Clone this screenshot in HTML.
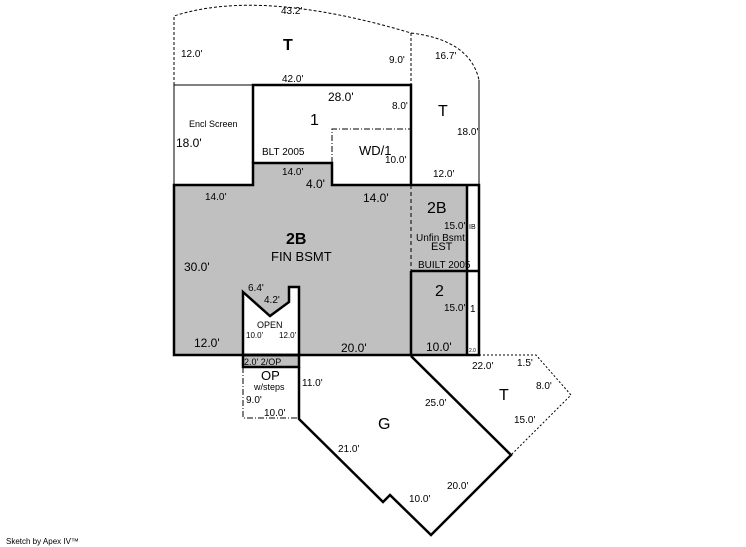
<!DOCTYPE html>
<html><head><meta charset="utf-8"><style>
html,body{margin:0;padding:0;background:#fff;}
svg{display:block;}
text{font-family:"Liberation Sans",Arial,sans-serif;fill:#000;}
</style></head><body>
<svg width="746" height="547" viewBox="0 0 746 547" xmlns="http://www.w3.org/2000/svg">
<path d="M174,185 H253 V163 H332 V185 H467 V355 H174 Z" fill="#c0c0c0"/>
<rect x="243" y="355" width="56" height="12" fill="#c0c0c0"/>
<path d="M243,355 V292 L270,316 L289,302 V287 H299 V355 Z" fill="#fff" stroke="#000" stroke-width="2.5"/>
<path d="M174,185 V16 Q260,-12 411,33 Q470,40 479,80 V185" fill="none" stroke="#000" stroke-width="1" stroke-dasharray="3,2"/>
<line x1="411" y1="33" x2="411" y2="185" stroke="#000" stroke-width="1" stroke-dasharray="3,2"/>
<line x1="174" y1="85" x2="253" y2="85" stroke="#000" stroke-width="1"/>
<line x1="174" y1="85" x2="174" y2="185" stroke="#000" stroke-width="1"/>
<line x1="479" y1="80" x2="479" y2="185" stroke="#000" stroke-width="1"/>
<path d="M253,163 V85 H411 V185" fill="none" stroke="#000" stroke-width="2.5"/>
<path d="M332,163 V129 H411" fill="none" stroke="#000" stroke-width="1" stroke-dasharray="6,2,1,2"/>
<path d="M174,185 H253 V163 H332 V185 H479 V355 H174 Z" fill="none" stroke="#000" stroke-width="2.5"/>
<line x1="467" y1="185" x2="467" y2="355" stroke="#000" stroke-width="2.5"/>
<line x1="411" y1="271" x2="479" y2="271" stroke="#000" stroke-width="2.5"/>
<line x1="411" y1="271" x2="411" y2="355" stroke="#000" stroke-width="2.5"/>
<line x1="411" y1="185" x2="411" y2="271" stroke="#000" stroke-width="1" stroke-dasharray="4,3"/>
<rect x="243" y="355" width="56" height="12" fill="none" stroke="#000" stroke-width="2.5"/>
<path d="M243,367 V418 H299" fill="none" stroke="#000" stroke-width="1" stroke-dasharray="6,2,1,2"/>
<path d="M299,367 V419 L383,502 L390,495 L431,535 L511,455 L411,356" fill="none" stroke="#000" stroke-width="2.5"/>
<path d="M479,355 H536 L571,395 L511,455" fill="none" stroke="#000" stroke-width="1" stroke-dasharray="2,2"/>
<g font-size="10">
<text x="281" y="14">43.2'</text>
<text x="181" y="57">12.0'</text>
<text x="389" y="63">9.0'</text>
<text x="435" y="59">16.7'</text>
<text x="282" y="82">42.0'</text>
<text x="328" y="101" font-size="12">28.0'</text>
<text x="392" y="109">8.0'</text>
<text x="189" y="127" font-size="9">Encl Screen</text>
<text x="176" y="147" font-size="12">18.0'</text>
<text x="457" y="135">18.0'</text>
<text x="262" y="155">BLT 2005</text>
<text x="385" y="163">10.0'</text>
<text x="433" y="177">12.0'</text>
<text x="282" y="175">14.0'</text>
<text x="306" y="188" font-size="12">4.0'</text>
<text x="205" y="200">14.0'</text>
<text x="363" y="202" font-size="12">14.0'</text>
<text x="444" y="229">15.0'</text>
<text x="469" y="229" font-size="7">IB</text>
<text x="416" y="241">Unfin Bsmt</text>
<text x="431" y="250" font-size="11">EST</text>
<text x="418" y="268">BUILT 2005</text>
<text x="184" y="271" font-size="12">30.0'</text>
<text x="248" y="291">6.4'</text>
<text x="264" y="303">4.2'</text>
<text x="444" y="311">15.0'</text>
<text x="470" y="312">1</text>
<text x="257" y="328" font-size="9">OPEN</text>
<text x="246" y="338" font-size="8">10.0'</text>
<text x="279" y="338" font-size="8">12.0'</text>
<text x="194" y="347" font-size="12">12.0'</text>
<text x="341" y="352" font-size="12">20.0'</text>
<text x="426" y="351" font-size="12">10.0'</text>
<text x="469" y="352" font-size="5" fill="#888">2.0</text>
<text x="244" y="365" font-size="9">2.0' 2/OP</text>
<text x="472" y="369">22.0'</text>
<text x="517" y="366">1.5'</text>
<text x="302" y="386">11.0'</text>
<text x="254" y="390" font-size="9">w/steps</text>
<text x="536" y="389">8.0'</text>
<text x="246" y="403">9.0'</text>
<text x="425" y="406">25.0'</text>
<text x="264" y="416">10.0'</text>
<text x="514" y="423">15.0'</text>
<text x="338" y="452">21.0'</text>
<text x="447" y="489">20.0'</text>
<text x="409" y="502">10.0'</text>
<text x="6" y="544" font-size="8">Sketch by Apex IV™</text>
</g>
<g font-size="16">
<text x="283" y="50" font-weight="bold">T</text>
<text x="438" y="116">T</text>
<text x="310" y="125">1</text>
<text x="359" y="155" font-size="13">WD/1</text>
<text x="427" y="213">2B</text>
<text x="286" y="244" font-weight="bold">2B</text>
<text x="271" y="261" font-size="13">FIN BSMT</text>
<text x="435" y="296">2</text>
<text x="261" y="380" font-size="13">OP</text>
<text x="378" y="429">G</text>
<text x="499" y="400">T</text>
</g>
</svg>
</body></html>
